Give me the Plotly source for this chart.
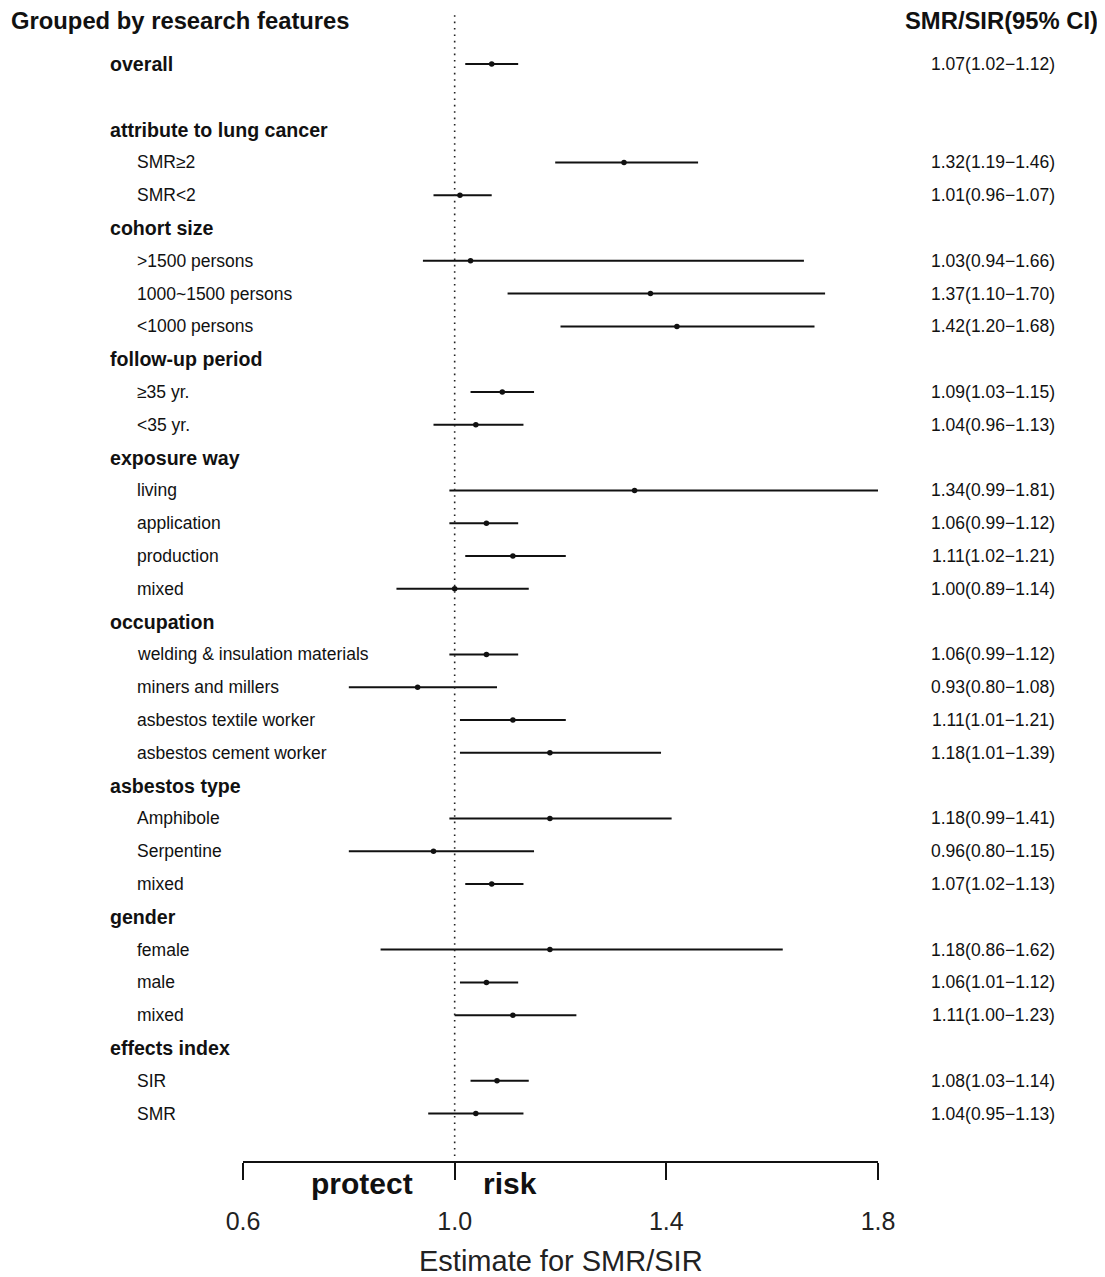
import plotly.graph_objects as go

# The page places the figure 8px from the top-left corner, so the figure is
# sized to fill the rest of the 1105x1277 window; reference pixel coordinates
# are converted with that offset.
OFF = 8
W, H = 1105 - OFF, 1277 - OFF

row_labels = ["overall", "", "attribute to lung cancer", "SMR≥2", "SMR<2",
              "cohort size", ">1500 persons", "1000~1500 persons", "<1000 persons",
              "follow-up period", "≥35 yr.", "<35 yr.",
              "exposure way", "living", "application", "production", "mixed",
              "occupation", "welding & insulation materials", "miners and millers",
              "asbestos textile worker", "asbestos cement worker",
              "asbestos type", "Amphibole", "Serpentine", "mixed",
              "gender", "female", "male", "mixed",
              "effects index", "SIR", "SMR"]
is_header = [1, 0, 1, 0, 0,
             1, 0, 0, 0,
             1, 0, 0,
             1, 0, 0, 0, 0,
             1, 0, 0, 0, 0,
             1, 0, 0, 0,
             1, 0, 0, 0,
             1, 0, 0]
est = [1.07, None, None, 1.32, 1.01,
       None, 1.03, 1.37, 1.42,
       None, 1.09, 1.04,
       None, 1.34, 1.06, 1.11, 1.00,
       None, 1.06, 0.93, 1.11, 1.18,
       None, 1.18, 0.96, 1.07,
       None, 1.18, 1.06, 1.11,
       None, 1.08, 1.04]
lo = [1.02, None, None, 1.19, 0.96,
      None, 0.94, 1.10, 1.20,
      None, 1.03, 0.96,
      None, 0.99, 0.99, 1.02, 0.89,
      None, 0.99, 0.80, 1.01, 1.01,
      None, 0.99, 0.80, 1.02,
      None, 0.86, 1.01, 1.00,
      None, 1.03, 0.95]
hi = [1.12, None, None, 1.46, 1.07,
      None, 1.66, 1.70, 1.68,
      None, 1.15, 1.13,
      None, 1.81, 1.12, 1.21, 1.14,
      None, 1.12, 1.08, 1.21, 1.39,
      None, 1.41, 1.15, 1.13,
      None, 1.62, 1.12, 1.23,
      None, 1.14, 1.13]
tick_vals = [0.6, 1.0, 1.4, 1.8]
tick_text = ["0.6", "1.0", "1.4", "1.8"]

FONT = "Liberation Sans, Arial, Helvetica, sans-serif"
INK = "#111111"

# reference-pixel layout helpers
ROW0, ROWH = 64.0, 32.8
AXIS_PX = 1161.0


def px_x(p):
    return (p - OFF) / W


def px_y(p):
    return 1 - (p - OFF) / H


# y-axis range such that row i sits at reference pixel ROW0 + ROWH*i
y_bottom = (AXIS_PX - ROW0) / ROWH
y_top = (OFF - ROW0) / ROWH

fig = go.Figure()

# CI lines
lx, ly = [], []
for i, (a, b) in enumerate(zip(lo, hi)):
    if a is None:
        continue
    lx += [a, b, None]
    ly += [i, i, None]
fig.add_trace(go.Scatter(x=lx, y=ly, mode="lines",
                         line=dict(color=INK, width=2), hoverinfo="skip",
                         showlegend=False))
# point estimates
px_, py_ = [], []
for i, e in enumerate(est):
    if e is None:
        continue
    px_.append(e)
    py_.append(i)
fig.add_trace(go.Scatter(x=px_, y=py_, mode="markers",
                         marker=dict(color=INK, size=5.5, symbol="circle"),
                         showlegend=False))

annotations = []
for i, (lab, hd) in enumerate(zip(row_labels, is_header)):
    if lab == "":
        continue
    annotations.append(dict(
        x=px_x(108 if hd else 135), xref="paper", y=i, yref="y",
        text=f"<b>{lab}</b>" if hd else lab, showarrow=False,
        xanchor="left", yanchor="middle",
        font=dict(family=FONT, size=19.6 if hd else 17.5, color=INK)))
    if est[i] is not None:
        annotations.append(dict(
            x=px_x(1057), xref="paper", y=i, yref="y",
            text=f"{est[i]:.2f}({lo[i]:.2f}\u2212{hi[i]:.2f})", showarrow=False,
            xanchor="right", yanchor="middle",
            font=dict(family=FONT, size=17.5, color=INK)))

annotations.append(dict(x=px_x(9), xref="paper", y=px_y(20), yref="paper",
                        text="<b>Grouped by research features</b>", showarrow=False,
                        xanchor="left", yanchor="middle",
                        font=dict(family=FONT, size=23.8, color=INK)))
annotations.append(dict(x=px_x(1100), xref="paper", y=px_y(20), yref="paper",
                        text="<b>SMR/SIR(95% CI)</b>", showarrow=False,
                        xanchor="right", yanchor="middle",
                        font=dict(family=FONT, size=23.8, color=INK)))
annotations.append(dict(x=px_x(362), xref="paper", y=px_y(1183), yref="paper",
                        text="<b>protect</b>", showarrow=False,
                        xanchor="center", yanchor="middle",
                        font=dict(family=FONT, size=30, color=INK)))
annotations.append(dict(x=px_x(510), xref="paper", y=px_y(1183), yref="paper",
                        text="<b>risk</b>", showarrow=False,
                        xanchor="center", yanchor="middle",
                        font=dict(family=FONT, size=30, color=INK)))
annotations.append(dict(x=px_x(561), xref="paper", y=px_y(1261), yref="paper",
                        text="Estimate for SMR/SIR", showarrow=False,
                        xanchor="center", yanchor="middle",
                        font=dict(family=FONT, size=29, color="#222222")))

shapes = [dict(type="line", xref="x", yref="paper", x0=1.0, x1=1.0,
               y0=px_y(1156), y1=px_y(12),
               line=dict(color="#222222", width=1.6, dash="1.6px,4.8px"))]

fig.update_layout(
    width=W, height=H,
    margin=dict(l=0, r=0, t=0, b=0, pad=0, autoexpand=False),
    paper_bgcolor="white", plot_bgcolor="white",
    showlegend=False,
    annotations=annotations,
    shapes=shapes,
    xaxis=dict(domain=[px_x(243), px_x(878)], range=[0.6, 1.8],
               automargin=False,
               showgrid=False, zeroline=False,
               showline=True, linecolor=INK, linewidth=2,
               ticks="outside", ticklen=17, tickwidth=2, tickcolor=INK,
               tickvals=tick_vals, ticktext=tick_text,
               ticklabelstandoff=20,
               tickfont=dict(family=FONT, size=25, color="#222222")),
    yaxis=dict(domain=[px_y(AXIS_PX), 1], range=[y_bottom, y_top],
               automargin=False,
               visible=False, showgrid=False, zeroline=False),
)

fig.write_html("out.html")
